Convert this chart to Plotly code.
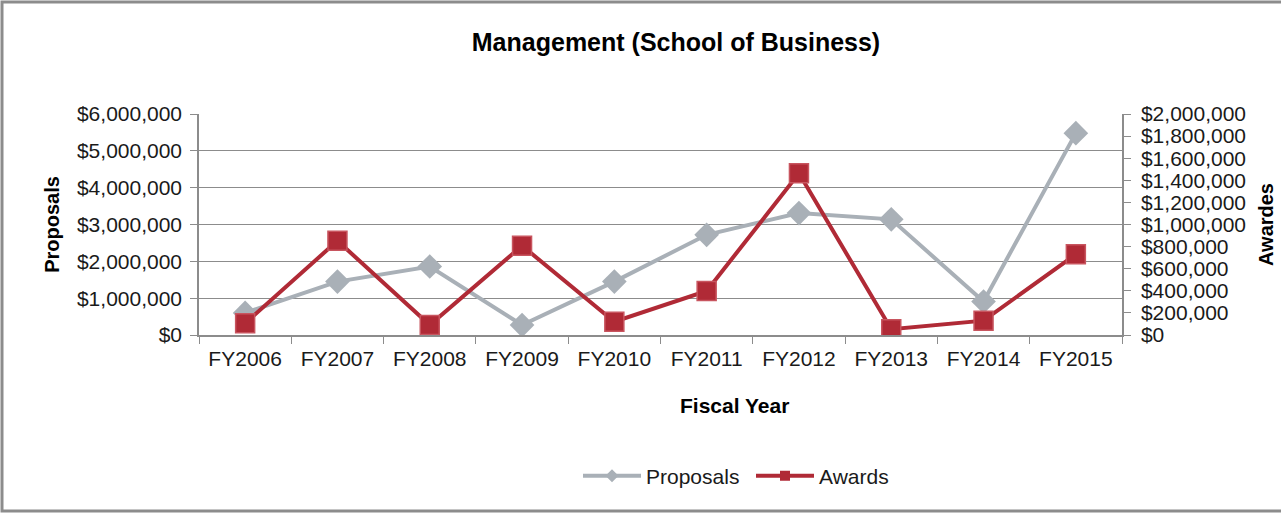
import plotly.graph_objects as go

years = ["FY2006", "FY2007", "FY2008", "FY2009", "FY2010",
         "FY2011", "FY2012", "FY2013", "FY2014", "FY2015"]
proposals = [600000, 1450000, 1860000, 270000, 1450000,
             2720000, 3310000, 3140000, 910000, 5480000]
awards = [106000, 853000, 90000, 808000, 120000,
          398000, 1463000, 52000, 130000, 730000]

left_ticks = [0, 1000000, 2000000, 3000000, 4000000, 5000000, 6000000]
right_ticks = [0, 200000, 400000, 600000, 800000, 1000000,
               1200000, 1400000, 1600000, 1800000, 2000000]

GRAY = "#A9B0B7"
RED = "#B02A36"
AXIS = "#8c8c8c"
FONT = "Liberation Sans, Arial, sans-serif"

fig = go.Figure()
fig.add_trace(go.Scatter(
    x=years, y=proposals, name="Proposals", mode="lines+markers",
    line=dict(color=GRAY, width=4),
    marker=dict(symbol="diamond", size=19, color=GRAY),
    yaxis="y", showlegend=False,
))
fig.add_trace(go.Scatter(
    x=years, y=awards, name="Awards", mode="lines+markers",
    line=dict(color=RED, width=4),
    marker=dict(symbol="square", size=19, color=RED,
                line=dict(color="#C8555F", width=1.5)),
    yaxis="y2", showlegend=False,
))
# legend entries with the small symbols used in the original legend
fig.add_trace(go.Scatter(
    x=[None], y=[None], name="Proposals", mode="lines+markers",
    line=dict(color=GRAY, width=4),
    marker=dict(symbol="diamond", size=10, color=GRAY),
))
fig.add_trace(go.Scatter(
    x=[None], y=[None], name="Awards", mode="lines+markers",
    line=dict(color=RED, width=4),
    marker=dict(symbol="square", size=10, color=RED),
))

fig.update_layout(
    width=1281, height=514,
    margin=dict(l=199, r=159, t=114, b=179),
    paper_bgcolor="white", plot_bgcolor="white",
    font=dict(family=FONT, size=21, color="#1a1a1a"),
    title=dict(text="<b>Management (School of Business)</b>",
               x=(676 - 199) / 923, xref="paper", xanchor="center",
               y=0.918, yanchor="middle",
               font=dict(size=25, color="black")),
    xaxis=dict(
        type="category", automargin=False, range=[-0.5, 9.5],
        showline=True, linecolor=AXIS, linewidth=1.5,
        ticks="outside", tickson="boundaries", ticklen=7, tickcolor=AXIS,
        ticklabelstandoff=4,
        showgrid=False,
    ),
    yaxis=dict(
        range=[0, 6000000], tickvals=left_ticks, tickformat="$,.0f",
        automargin=False,
        showline=True, linecolor=AXIS, linewidth=1.5,
        ticks="outside", ticklen=7, tickcolor=AXIS,
        ticklabelstandoff=4,
        showgrid=True, gridcolor=AXIS, gridwidth=1.2,
        zeroline=False,
        title=dict(text="<b>Proposals</b>", standoff=12,
                   font=dict(size=20, color="black")),
    ),
    yaxis2=dict(
        range=[0, 2000000], tickvals=right_ticks, tickformat="$,.0f",
        overlaying="y", side="right", automargin=False,
        showline=True, linecolor=AXIS, linewidth=1.5,
        ticks="outside", ticklen=7, tickcolor=AXIS,
        ticklabelstandoff=6,
        showgrid=False, zeroline=False,
        title=dict(text="<b>Awardes</b>", standoff=14,
                   font=dict(size=20, color="black")),
    ),
    annotations=[dict(text="<b>Fiscal Year</b>", xref="paper", yref="paper",
                      x=(734 - 199) / 923, y=(335 - 405) / 221,
                      xanchor="center", yanchor="middle", showarrow=False,
                      font=dict(size=21, color="black"))],
    legend=dict(orientation="h", x=(578 - 199) / 923, xanchor="left",
                y=(335 - 476) / 221, yanchor="middle",
                font=dict(size=21, color="#1a1a1a"),
                itemwidth=58, entrywidth=100, entrywidthmode="pixels"),
    shapes=[dict(type="rect", xref="paper", yref="paper",
                 x0=(2 - 199) / 923, x1=(1290 - 199) / 923,
                 y0=(335 - 511) / 221, y1=(335 - 2) / 221,
                 line=dict(color=AXIS, width=3), layer="below")],
)

fig.write_html("out.html", config={"displayModeBar": False},
               post_script="document.body.style.margin='0';")
